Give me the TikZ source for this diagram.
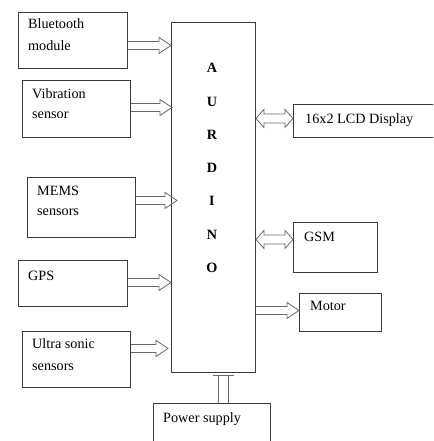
\documentclass[tikz,border=0pt]{standalone}
\usepackage{fontspec}
\setmainfont{Liberation Serif}
\usetikzlibrary{calc}
\definecolor{boxc}{HTML}{3A3A3A}
\definecolor{arrc}{HTML}{6A6A6A}
\begin{document}
\begin{tikzpicture}[x=1pt,y=-1pt,
  box/.style={draw=boxc, line width=0.9pt, rectangle, inner sep=0pt, anchor=north west},
  lbl/.style={inner sep=0pt, anchor=north west, align=left, font=\fontsize{14.2}{22}\selectfont},
  lblb/.style={lbl, font=\fontsize{14.2}{20}\selectfont},
  bigl/.style={inner sep=0pt, align=center, font=\fontsize{14.2}{33.3}\selectfont\bfseries},
  blkR/.style={draw=arrc, line width=0.8pt, line join=miter,
    to path={let \p1=(\tikztostart), \p2=(\tikztotarget) in
      (\x1,\y1+4pt) -- (\x2-12pt,\y1+4pt) -- (\x2-12pt,\y1+8pt) -- (\x2,\y1)
      -- (\x2-12pt,\y1-8pt) -- (\x2-12pt,\y1-4pt) -- (\x1,\y1-4pt)}},
  blkLR/.style={draw=arrc, line width=0.8pt, line join=miter,
    to path={let \p1=(\tikztostart), \p2=(\tikztotarget) in
      (\x1,\y1) -- (\x1+8pt,\y1+9pt) -- (\x1+8pt,\y1+4.5pt) -- (\x2-8pt,\y1+4.5pt)
      -- (\x2-8pt,\y1+9pt) -- (\x2,\y1) -- (\x2-8pt,\y1-9pt) -- (\x2-8pt,\y1-4.5pt)
      -- (\x1+8pt,\y1-4.5pt) -- (\x1+8pt,\y1-9pt) -- cycle}},
  blkU/.style={draw=arrc, line width=0.8pt,
    to path={let \p1=(\tikztostart), \p2=(\tikztotarget) in
      (\x1-5pt,\y1) -- (\x1-5pt,\y2-2pt) (\x1+5pt,\y1) -- (\x1+5pt,\y2-2pt)
      (\x1-10pt,\y2-2pt) -- (\x1+11pt,\y2-2pt)}}
]
\useasboundingbox (0,0) rectangle (433,441);
\clip (0,0) rectangle (433,441);

% left boxes
\node[box, minimum width=109pt, minimum height=56pt] (bt) at (18,12) {};
\node[lbl] (btl) at (28,18.4) {Bluetooth\\module};
\node[box, minimum width=108pt, minimum height=57pt] (vib) at (22,80) {};
\node[lblb] (vibl) at (32,88.4) {Vibration\\sensor};
\node[box, minimum width=108pt, minimum height=60pt] (mems) at (27,177) {};
\node[lblb] (memsl) at (37,185.4) {MEMS\\sensors};
\node[box, minimum width=109pt, minimum height=46pt] (gps) at (18,260) {};
\node[lbl] (gpsl) at (28,270.4) {GPS};
\node[box, minimum width=108pt, minimum height=56pt] (us) at (22,331) {};
\node[lbl] (usl) at (32,338.4) {Ultra sonic\\sensors};

% arduino
\node[box, minimum width=84pt, minimum height=350pt] (ard) at (171,22) {};
\node[bigl] (ardl) at (212,168) {A\\U\\R\\D\\I\\N\\O};

% right boxes
\node[box, minimum width=143pt, minimum height=33pt] (lcd) at (293,104) {};
\node[lbl] (lcdl) at (305,113.4) {16x2 LCD Display};
\node[box, minimum width=84pt, minimum height=50pt] (gsm) at (293,222) {};
\node[lbl] (gsml) at (304,231.4) {GSM};
\node[box, minimum width=82pt, minimum height=38pt] (mot) at (299,293) {};
\node[lbl] (motl) at (310,301.4) {Motor};

% power supply
\node[box, minimum width=117pt, minimum height=60pt] (pwr) at (153,403) {};
\node[lbl] (pwrl) at (163,412.4) {Power supply};

% input arrows
\draw[blkR] ([yshift=-5pt]bt.east) to (ard.west);
\draw[blkR] ([yshift=1.5pt]vib.east) to ([xshift=1pt]ard.west);
\draw[blkR] ([yshift=7pt]mems.east) to ([xshift=6pt]ard.west);
\draw[blkR] ([yshift=1pt]gps.east) to (ard.west);
\draw[blkR] ([yshift=11pt]us.east) to ([xshift=-3pt]ard.west);

% output arrows
\draw[blkLR] ($(ard.east |- lcd.west)+(0,-2.5)$) to (lcd.west);
\draw[blkLR] ($(ard.east |- gsm.west)+(0,-8)$) to (gsm.west);
\draw[blkR] ($(ard.east |- mot.west)+(0,-2)$) to (mot.west);

% power arrow
\draw[blkU] ($(pwr.north)+(11.5,0)$) to (ard.south);
\end{tikzpicture}
\end{document}
